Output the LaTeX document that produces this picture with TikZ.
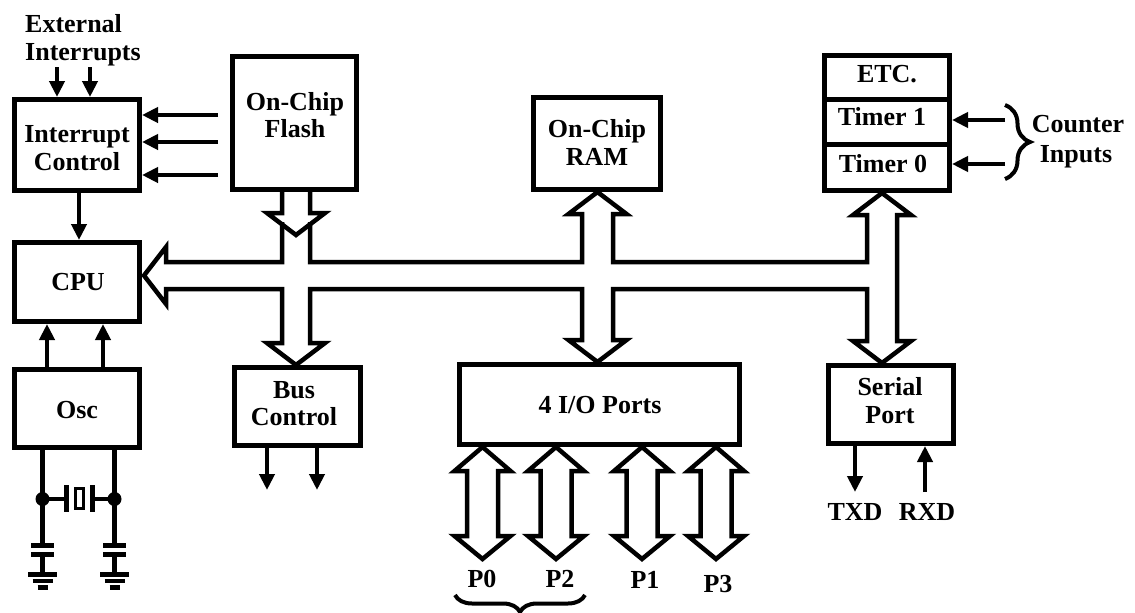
\documentclass[tikz,border=0pt]{standalone}
\usepackage{fontspec}
\setmainfont{Liberation Serif}
\usetikzlibrary{arrows.meta,decorations.pathreplacing}
\begin{document}
\begin{tikzpicture}[x=1pt,y=-1pt,
  txt/.style={font=\fontsize{26}{28}\selectfont\bfseries, inner sep=0pt},
  box/.style={draw, line width=5pt, inner sep=0pt},
  arr/.style={line width=4.5pt, -{Triangle[width=15pt,length=16pt]}},
  bus/.style={line width=4.5pt, line join=miter, miter limit=10},
  wire/.style={line width=4.5pt},
  brc/.style={line width=4pt, decorate}]
\fill[white] (0,0) rectangle (1135,613);
\useasboundingbox (0,0) rectangle (1135,613);

% boxes
\node[box, minimum width=125pt, minimum height=91pt]  (intc)   at (77,145)    {};
\node[box, minimum width=124pt, minimum height=133pt] (flash)  at (294.5,123) {};
\node[box, minimum width=127pt, minimum height=92pt]  (ram)    at (597,143.5) {};
\node[box, minimum width=125pt, minimum height=135pt] (etc)    at (887,123)   {};
\node[box, minimum width=125pt, minimum height=79pt]  (cpu)    at (77,282)    {};
\node[box, minimum width=125pt, minimum height=78pt]  (osc)    at (77,408.5)  {};
\node[box, minimum width=126pt, minimum height=78pt]  (busctl) at (297.5,406.5) {};
\node[box, minimum width=280pt, minimum height=80pt]  (ports)  at (599.5,404.5) {};
\node[box, minimum width=125pt, minimum height=78pt]  (serial) at (891,404.5) {};
\draw[line width=5pt] (etc.west |- 0,99) -- (etc.east |- 0,99);
\draw[line width=5pt] (etc.west |- 0,144) -- (etc.east |- 0,144);

% texts
\node[txt, anchor=base west] (t1) at (25,32) {External};
\node[txt, anchor=base west] (t2) at (25,60) {Interrupts};
\node[txt, anchor=base] (t3) at (77,142) {Interrupt};
\node[txt, anchor=base] (t4) at (77,170) {Control};
\node[txt, anchor=base] (t5) at (295,110) {On-Chip};
\node[txt, anchor=base] (t6) at (295,137) {Flash};
\node[txt, anchor=base] (t7) at (597,137) {On-Chip};
\node[txt, anchor=base] (t8) at (597,165) {RAM};
\node[txt, anchor=base] (t9) at (887,82) {ETC.};
\node[txt, anchor=base] (t10) at (882,125) {Timer 1};
\node[txt, anchor=base] (t11) at (883,172) {Timer 0};
\node[txt, anchor=base] (t12) at (1078,132) {Counter};
\node[txt, anchor=base] (t13) at (1076,162) {Inputs};
\node[txt, anchor=base] (t14) at (78,290) {CPU};
\node[txt, anchor=base] (t15) at (77,418) {Osc};
\node[txt, anchor=base] (t16) at (294,398) {Bus};
\node[txt, anchor=base] (t17) at (294,425) {Control};
\node[txt, anchor=base] (t18) at (600,413) {4 I/O Ports};
\node[txt, anchor=base] (t19) at (890,395) {Serial};
\node[txt, anchor=base] (t20) at (890,423) {Port};
\node[txt, anchor=base] (t21) at (855,520) {TXD};
\node[txt, anchor=base] (t22) at (927,520) {RXD};
\node[txt, anchor=base] (t23) at (482,587) {P0};
\node[txt, anchor=base] (t24) at (560,587) {P2};
\node[txt, anchor=base] (t25) at (645,588) {P1};
\node[txt, anchor=base] (t26) at (718,592) {P3};

% small arrows
\coordinate (e1) at (57,67);
\coordinate (e2) at (90,67);
\draw[arr] (e1) -- (e1 |- intc.north);
\draw[arr] (e2) -- (e2 |- intc.north);
\coordinate (f1) at (218,115);
\coordinate (f2) at (218,142);
\coordinate (f3) at (218,175);
\draw[arr] (f1) -- (f1 -| intc.east);
\draw[arr] (f2) -- (f2 -| intc.east);
\draw[arr] (f3) -- (f3 -| intc.east);
\draw[arr] ([xshift=2pt]intc.south) -- ([xshift=2pt]cpu.north);
\draw[arr] ([xshift=-30pt]osc.north) -- ([xshift=-30pt]cpu.south);
\draw[arr] ([xshift=26pt]osc.north) -- ([xshift=26pt]cpu.south);
\coordinate (c1) at (1005,120);
\coordinate (c2) at (1005,164);
\draw[arr] (c1) -- (c1 -| etc.east);
\draw[arr] (c2) -- (c2 -| etc.east);
\coordinate (b1) at (267,490);
\coordinate (b2) at (317,490);
\draw[arr] (b1 |- busctl.south) -- (b1);
\draw[arr] (b2 |- busctl.south) -- (b2);
\coordinate (tx) at (855,492);
\coordinate (rx) at (925,492);
\draw[arr] (tx |- serial.south) -- (tx);
\draw[arr] (rx) -- (rx |- serial.south);

% braces
\draw[brc, decoration={brace, amplitude=25pt}] (1005,105) -- (1005,179);
\draw[brc, decoration={brace, amplitude=17pt}] (585,595) -- (455,595);

% flash arrow into bus
\draw[bus] (282,190) -- (282,213) -- (267,213) -- (296,235) -- (325,213) -- (310,213) -- (310,190);
% system bus outline
\draw[bus] (282,222) -- (282,262) -- (166,262) -- (166,247) -- (144,275.5) -- (166,304) -- (166,289)
  -- (282,289) -- (282,343) -- (267,343) -- (296,365) -- (325,343) -- (310,343) -- (310,289)
  -- (582,289) -- (582,340) -- (568.5,340) -- (597.5,362) -- (626.5,340) -- (613,340) -- (613,289)
  -- (867,289) -- (867,341) -- (853,341) -- (882,363) -- (911,341) -- (897,341)
  -- (897,215) -- (911,215) -- (882,193) -- (853,215) -- (867,215) -- (867,262)
  -- (613,262) -- (613,214) -- (626.5,214) -- (597.5,192) -- (568.5,214) -- (582,214) -- (582,262)
  -- (310,262) -- (310,222);

% port arrows
\foreach \c in {482.5,556,642,716}{
  \draw[bus] (\c,447) -- (\c+28,471) -- (\c+15.5,471) -- (\c+15.5,536) -- (\c+28,536) -- (\c,559)
    -- (\c-28,536) -- (\c-15.5,536) -- (\c-15.5,471) -- (\c-28,471) -- cycle;
}

% oscillator circuit
\draw[wire] (42.5,450) -- (42.5,545.5);
\draw[wire] (114.5,450) -- (114.5,545.5);
\fill (42.5,499) circle[radius=7pt];
\fill (114.5,499) circle[radius=7pt];
\draw[line width=4pt] (42.5,499) -- (66,499);
\draw[line width=4pt] (92,499) -- (114.5,499);
\draw[line width=5pt] (66,485) -- (66,512);
\draw[line width=5pt] (92,485) -- (92,512);
\draw[line width=3.3pt] (75.7,488.3) rectangle (83.3,508.3);
\foreach \x in {42.5,114.5}{
  \draw[line width=5pt] (\x-11.5,545.5) -- (\x+11.5,545.5);
  \draw[line width=5pt] (\x-11.5,554.5) -- (\x+11.5,554.5);
  \draw[wire] (\x,554.5) -- (\x,574.5);
  \draw[line width=5pt] (\x-14.5,574.5) -- (\x+14.5,574.5);
  \draw[line width=4.5pt] (\x-10,581) -- (\x+10,581);
  \draw[line width=4.5pt] (\x-5,587.5) -- (\x+5,587.5);
}
\end{tikzpicture}
\end{document}
